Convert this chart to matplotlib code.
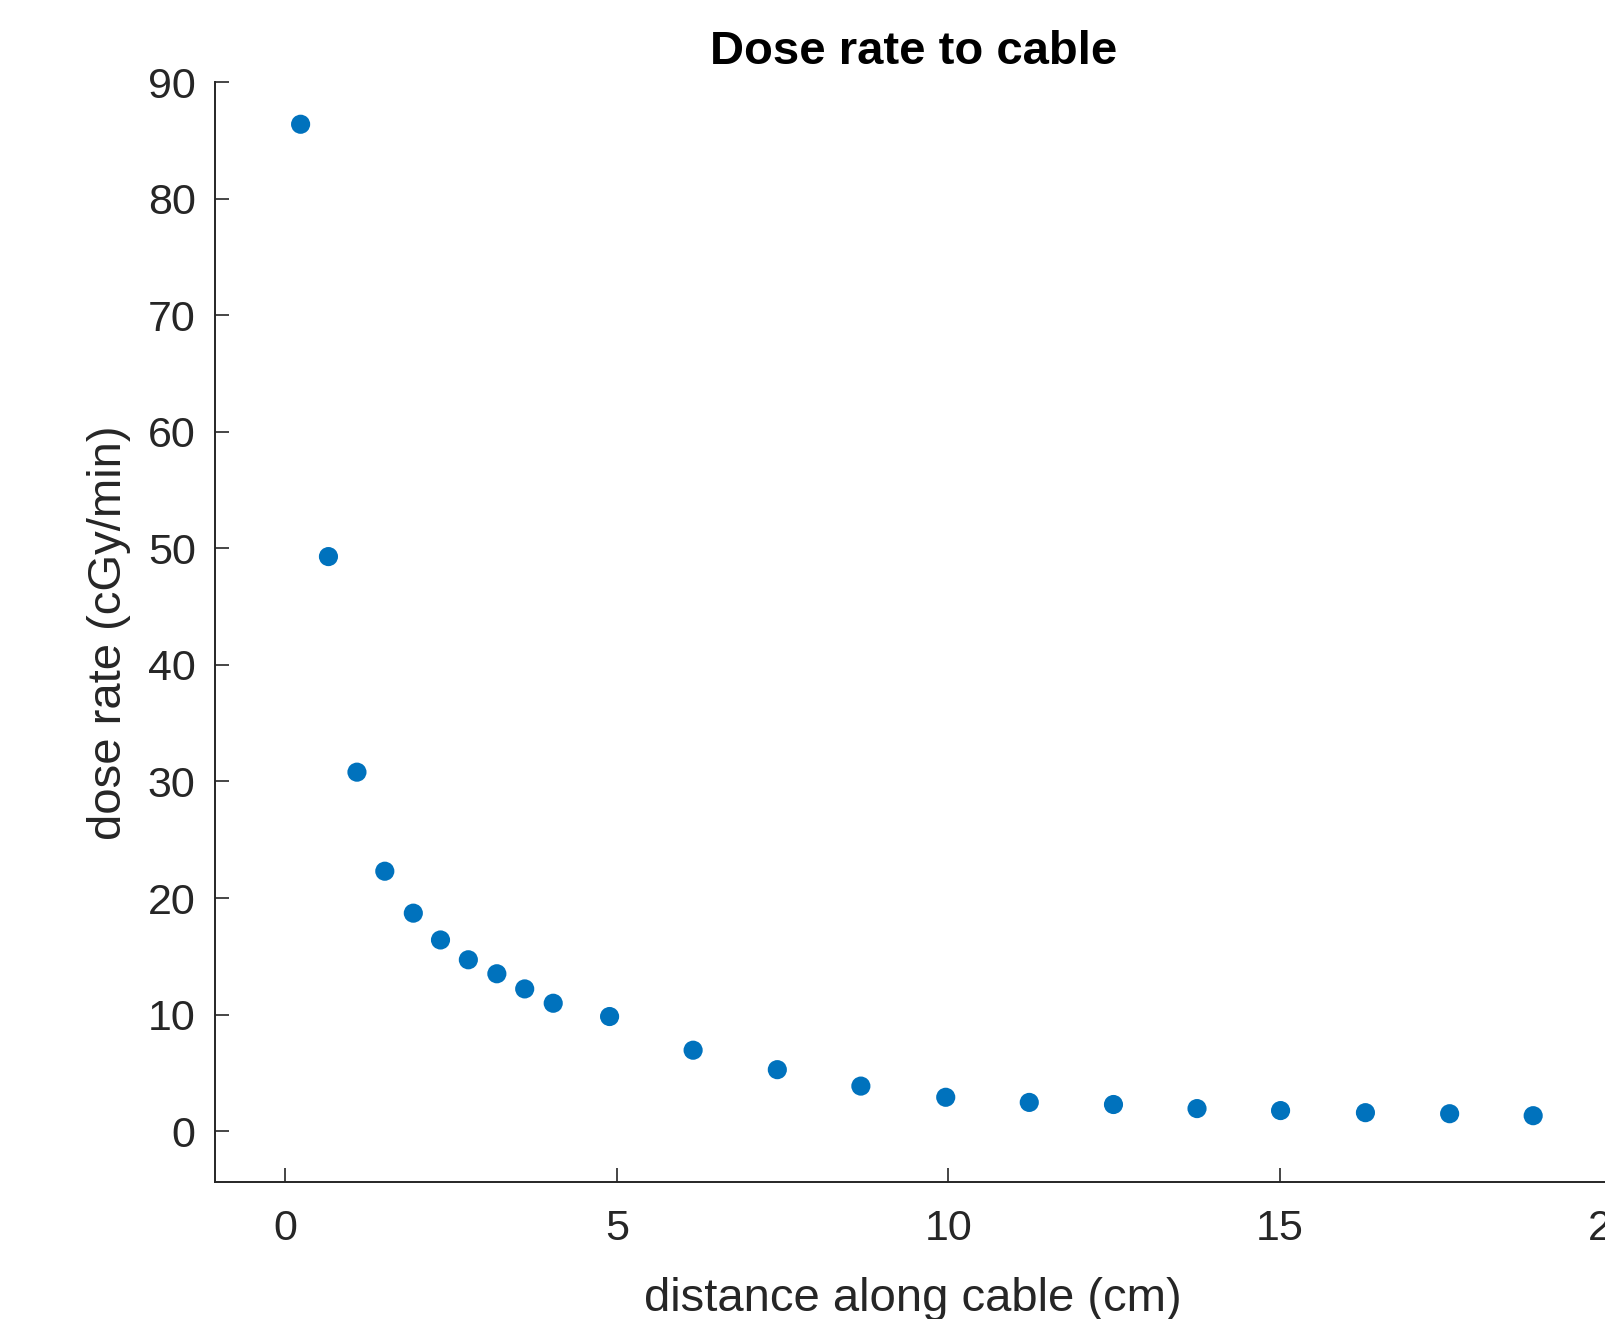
import matplotlib
matplotlib.use("Agg")
import matplotlib.pyplot as plt

# distance along cable (cm) and dose rate (cGy/min)
distance_cm = [0.23, 0.65, 1.08, 1.50, 1.93, 2.34, 2.76, 3.19, 3.61, 4.04,
               4.89, 6.15, 7.42, 8.68, 9.96, 11.22, 12.49, 13.75, 15.01,
               16.29, 17.56, 18.82]
dose_rate = [86.4, 49.3, 30.8, 22.3, 18.7, 16.4, 14.7, 13.5, 12.2, 10.97,
             9.83, 6.94, 5.27, 3.86, 2.90, 2.46, 2.28, 1.93, 1.76, 1.58,
             1.49, 1.32]

x_ticks = [0, 5, 10, 15, 20]
y_ticks = [0, 10, 20, 30, 40, 50, 60, 70, 80, 90]

plt.rcParams["font.family"] = ["Liberation Sans", "DejaVu Sans"]
axis_gray = "#262626"

fig = plt.figure(figsize=(16.05, 13.19), dpi=100)
# axes run past the right edge of the figure, as in the reference
ax = fig.add_axes([0.134, 0.1036, 0.870, 0.834])

ax.scatter(distance_cm, dose_rate, s=190, color="#0072BD", edgecolors="none",
           zorder=3)

ax.set_xlim(-1.06, 20)
ax.set_ylim(-4.4, 90)
ax.set_xticks(x_ticks)
ax.set_yticks(y_ticks)

for side in ("top", "right"):
    ax.spines[side].set_visible(False)
for side in ("left", "bottom"):
    ax.spines[side].set_color(axis_gray)
    ax.spines[side].set_linewidth(1.4)

ax.tick_params(direction="in", length=10, width=1.2, colors=axis_gray,
               labelsize=31)
ax.tick_params(axis="x", pad=19)
ax.tick_params(axis="y", pad=14)

ax.set_xlabel("distance along cable (cm)", fontsize=34, color=axis_gray,
              labelpad=20)
ax.set_ylabel("dose rate (cGy/min)", fontsize=34, color=axis_gray,
              labelpad=12)
ax.set_title("Dose rate to cable", fontsize=34, fontweight="bold",
             color="black", pad=13)

fig.savefig("out.png", dpi=100)
